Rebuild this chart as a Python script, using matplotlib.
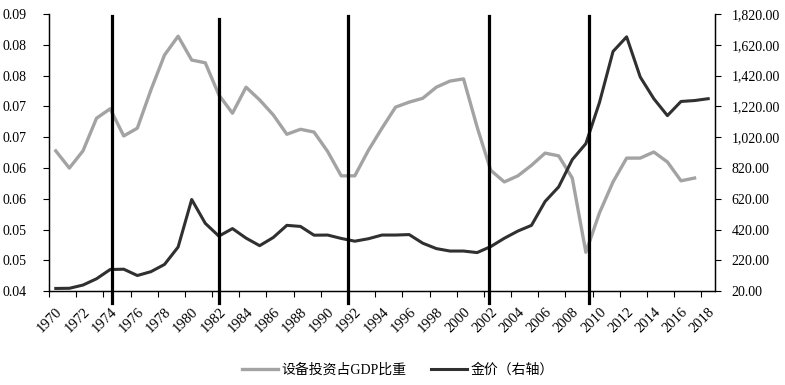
import numpy as np
import matplotlib
matplotlib.use("Agg")
from matplotlib import pyplot as plt
from matplotlib.ticker import FixedLocator, FuncFormatter, NullFormatter
import matplotlib.transforms as mtransforms

plt.rcParams['font.family'] = ['Liberation Serif', 'Noto Sans CJK SC', 'DejaVu Sans']

years = list(range(1970, 2019))

# equipment investment share of GDP, 1970-2017
equip_share = [0.0653, 0.0622, 0.0653, 0.0712, 0.0729, 0.0680, 0.0694, 0.0763, 0.0826, 0.0860,
               0.0817, 0.0812, 0.0754, 0.0721, 0.0768, 0.0745, 0.0718, 0.0683, 0.0692, 0.0687,
               0.0652, 0.0608, 0.0608, 0.0654, 0.0694, 0.0732, 0.0741, 0.0748, 0.0768, 0.0779,
               0.0783, 0.0696, 0.0618, 0.0597, 0.0608, 0.0627, 0.0649, 0.0644, 0.0604, 0.0470,
               0.0541, 0.0597, 0.0640, 0.0640, 0.0651, 0.0633, 0.0599, 0.0604]

# gold price (right axis), 1970-2018
gold = [37, 38, 59, 100, 160, 162, 121, 146, 193, 306,
        615, 460, 377, 426, 364, 315, 368, 447, 440, 383,
        384, 362, 344, 360, 384, 384, 387, 331, 296, 280,
        280, 270, 309, 363, 410, 447, 602, 697, 874, 978,
        1245, 1577, 1672, 1411, 1270, 1160, 1252, 1258, 1270]

# years marked by vertical lines
event_years = [1974.1, 1982.0, 1991.5, 2001.9, 2009.2]
event_tops = [0.993, 0.982, 0.993, 0.993, 0.993]

x = np.arange(len(years))

fig = plt.figure(figsize=(7.85, 3.85), dpi=100)
fig.patch.set_facecolor("white")
ax = fig.add_axes([0.0624, 0.244, 0.8484, 0.7195])
ax2 = ax.twinx()

l1, = ax.plot(x[:len(equip_share)], equip_share, color="#a3a3a3", linewidth=2.4,
              solid_joinstyle="round", label="设备投资占GDP比重")
l2, = ax2.plot(x, gold, color="#303030", linewidth=2.2,
               solid_joinstyle="round", label="金价（右轴）")

ax.set_xlim(-0.5, len(years) - 0.5)
ax.set_ylim(0.04, 0.09)
ax2.set_ylim(20, 1820)

ax.set_yticks(np.linspace(0.04, 0.09, 10))
ax.yaxis.set_major_formatter(FuncFormatter(lambda v, p: "%.2f" % v))
ax2.set_yticks(np.arange(20, 1821, 200))
ax2.yaxis.set_major_formatter(FuncFormatter(lambda v, p: "{:,.2f}".format(v)))

# ticks between categories, labels on every second year
ax.xaxis.set_major_locator(FixedLocator(np.arange(-0.5, len(years), 2)))
ax.xaxis.set_major_formatter(NullFormatter())
ax.xaxis.set_minor_locator(FixedLocator(x[::2]))
ax.set_xticklabels([str(y) for y in years[::2]], minor=True, rotation=45,
                   ha="right", va="top", rotation_mode="anchor", fontsize=10.5)
ax.tick_params(axis="x", which="minor", length=0, pad=10)
ax.tick_params(axis="x", which="major", length=4, width=0.8, direction="out")
ax.tick_params(axis="y", length=4, width=0.8, pad=12, labelsize=10)
ax2.tick_params(axis="y", length=4, width=0.8, pad=8, labelsize=10)

for a in (ax, ax2):
    a.spines["top"].set_visible(False)
    for s in ("left", "right", "bottom"):
        a.spines[s].set_linewidth(0.9)
        a.spines[s].set_color("black")

trans = mtransforms.blended_transform_factory(ax.transData, ax.transAxes)
for yr, top in zip(event_years, event_tops):
    ax2.plot([yr - years[0], yr - years[0]], [-0.043, top], transform=trans,
             color="black", linewidth=2.3, clip_on=False, zorder=5)

fig.legend(handles=[l1, l2], loc="center", bbox_to_anchor=(0.507, 0.039),
           ncol=2, frameon=False, fontsize=10, handlelength=2.6,
           handletextpad=0.25, columnspacing=1.8)

fig.savefig("out.png", dpi=100, facecolor="white")
